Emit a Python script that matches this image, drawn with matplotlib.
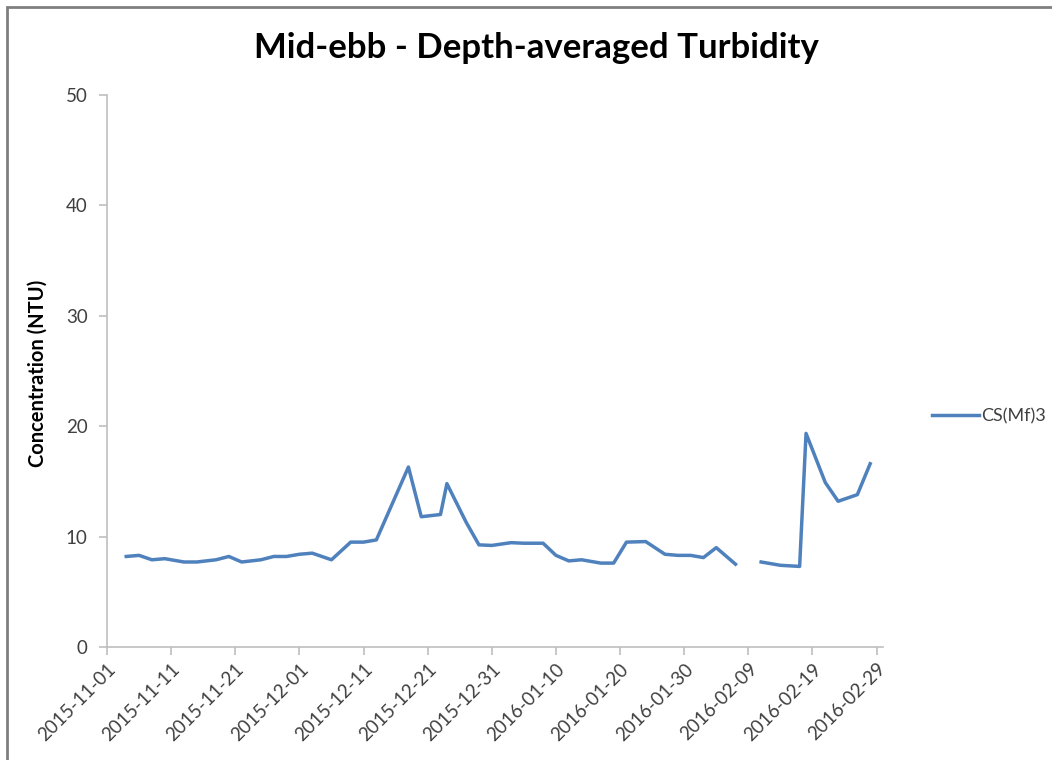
import numpy as np
import pandas as pd
import matplotlib
matplotlib.use("Agg")
import matplotlib.pyplot as plt
import matplotlib.dates as mdates
from matplotlib.patches import Rectangle

plt.rcParams['font.family'] = ['Lato', 'DejaVu Sans']

dates = ['2015-11-04', '2015-11-06', '2015-11-08', '2015-11-10', '2015-11-13',
         '2015-11-15', '2015-11-18', '2015-11-20', '2015-11-22', '2015-11-25',
         '2015-11-27', '2015-11-29', '2015-12-01', '2015-12-03', '2015-12-06',
         '2015-12-09', '2015-12-11', '2015-12-13', '2015-12-18', '2015-12-20',
         '2015-12-23', '2015-12-24', '2015-12-27', '2015-12-29', '2015-12-31',
         '2016-01-03', '2016-01-05', '2016-01-08', '2016-01-10', '2016-01-12',
         '2016-01-14', '2016-01-17', '2016-01-19', '2016-01-21', '2016-01-24',
         '2016-01-27', '2016-01-29', '2016-01-31', '2016-02-02', '2016-02-04',
         '2016-02-07', '2016-02-09', '2016-02-11', '2016-02-14', '2016-02-17',
         '2016-02-18', '2016-02-21', '2016-02-23', '2016-02-26', '2016-02-28']
turbidity = [8.2, 8.3, 7.9, 8.0, 7.7, 7.7, 7.9, 8.2, 7.7, 7.9,
             8.2, 8.2, 8.4, 8.5, 7.9, 9.5, 9.5, 9.7, 16.3, 11.8,
             12.0, 14.8, 11.3, 9.25, 9.2, 9.45, 9.4, 9.4, 8.3, 7.8,
             7.9, 7.6, 7.6, 9.5, 9.55, 8.4, 8.3, 8.3, 8.1, 9.0,
             7.5, np.nan, 7.7, 7.4, 7.3, 19.35, 14.9, 13.2, 13.8, 16.6]
tick_dates = pd.date_range('2015-11-01', '2016-02-29', freq='10D')
y_ticks = [0, 10, 20, 30, 40, 50]

x = pd.to_datetime(dates)

fig = plt.figure(figsize=(10.52, 7.6), dpi=100)
ax = fig.add_axes([107 / 1052, 1 - 647 / 760, (883 - 107) / 1052, (647 - 95) / 760])

ax.plot(x, turbidity, color='#4F81BD', lw=2.5, label='CS(Mf)3')

ax.set_xlim(pd.Timestamp('2015-11-01'), pd.Timestamp('2016-03-01'))
ax.set_ylim(0, 50)
ax.set_yticks(y_ticks)
ax.set_xticks(tick_dates)
ax.xaxis.set_major_formatter(mdates.DateFormatter('%Y-%m-%d'))
for lbl in ax.get_xticklabels():
    lbl.set_rotation(45)
    lbl.set_ha('right')
    lbl.set_rotation_mode('anchor')

for s in ['top', 'right']:
    ax.spines[s].set_visible(False)
for s in ['left', 'bottom']:
    ax.spines[s].set_color('#BFBFBF')
    ax.spines[s].set_linewidth(1.2)
ax.tick_params(axis='both', colors='#BFBFBF', length=6, width=1.2,
               labelcolor='#404040', labelsize=13.5)
ax.tick_params(axis='y', pad=8)

ax.set_ylabel('Concentration (NTU)', fontsize=14.5, fontweight='bold',
              color='black')
ax.yaxis.set_label_coords(-0.076, 0.496)
fig.text(0.5095, 1 - 48 / 760, 'Mid-ebb - Depth-averaged Turbidity',
         fontsize=25, fontweight='bold', ha='center', va='center')

fig.legend(loc='center left', bbox_to_anchor=(925 / 1052, 1 - 416 / 760),
           frameon=False, fontsize=13, handlelength=2.6, handletextpad=0.1,
           borderaxespad=0, labelcolor='#404040')

fig.patches.append(Rectangle((7 / 1052, -0.05), 1.1, 1 - 7 / 760 + 0.05,
                             transform=fig.transFigure, fill=False,
                             edgecolor='#7F7F7F', lw=2))

fig.savefig('out.png', dpi=100)
